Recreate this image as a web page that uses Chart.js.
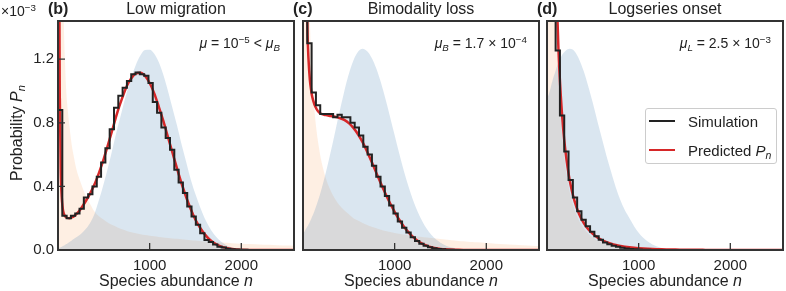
<!DOCTYPE html>
<html>
<head>
<meta charset="utf-8">
<script src="https://cdn.jsdelivr.net/npm/chart.js@4.4.0/dist/chart.umd.min.js"></script>
<style>
  body { margin: 0; background: #fff; }
  #wrap { position: relative; width: 786px; height: 291px; overflow: hidden;
          font-family: "Liberation Sans", Arial, sans-serif; color: #222; }
  canvas { position: absolute; top: 0; }
  .t { position: absolute; white-space: nowrap; line-height: 1; }
  .sub { font-size: 0.7em; vertical-align: -0.3em; }
  .sup { font-size: 0.7em; vertical-align: 0.55em; }
  .legrow { position: absolute; left: 0; width: 100%; height: 20px; }
  .sw { position: absolute; left: 3px; top: 9px; width: 26px; height: 2px; }
  .lt { position: absolute; left: 42px; top: 2px; font-size: 15px; }
</style>
</head>
<body>
<div id="wrap">
  <canvas id="panelB" width="300" height="291" style="left:0px"></canvas>
  <canvas id="panelC" width="252" height="291" style="left:293px"></canvas>
  <canvas id="panelD" width="249" height="291" style="left:537px"></canvas>

  <div class="t" style="left:1px;top:3px;font-size:14px">×10<span class="sup">−3</span></div>
  <div class="t" style="left:18px;top:133px;font-size:16px;transform:translate(-50%,-50%) rotate(-90deg)">Probability <i>P</i><span class="sub"><i>n</i></span></div>

  <div class="t" style="left:48px;top:1px;font-size:16px;font-weight:bold">(b)</div>
  <div class="t" style="left:176px;top:1px;font-size:16px;transform:translateX(-50%)">Low migration</div>
  <div class="t" style="left:293px;top:1px;font-size:16px;font-weight:bold">(c)</div>
  <div class="t" style="left:421px;top:1px;font-size:16px;transform:translateX(-50%)">Bimodality loss</div>
  <div class="t" style="left:537px;top:1px;font-size:16px;font-weight:bold">(d)</div>
  <div class="t" style="left:665px;top:1px;font-size:16px;transform:translateX(-50%)">Logseries onset</div>

  <div class="t" style="right:506px;top:35px;font-size:14px"><i>μ</i> = 10<span class="sup">−5</span> &lt; <i>μ</i><span class="sub"><i>B</i></span></div>
  <div class="t" style="right:259px;top:35px;font-size:14px"><i>μ</i><span class="sub"><i>B</i></span> = 1.7 × 10<span class="sup">−4</span></div>
  <div class="t" style="right:15px;top:35px;font-size:14px"><i>μ</i><span class="sub"><i>L</i></span> = 2.5 × 10<span class="sup">−3</span></div>

  <div class="t" style="left:176px;top:273px;font-size:16px;transform:translateX(-50%)">Species abundance <i>n</i></div>
  <div class="t" style="left:421px;top:273px;font-size:16px;transform:translateX(-50%)">Species abundance <i>n</i></div>
  <div class="t" style="left:665px;top:273px;font-size:16px;transform:translateX(-50%)">Species abundance <i>n</i></div>

  <div id="legend" style="position:absolute;left:645px;top:108px;width:130px;height:54px;border:1px solid #ccc;border-radius:3px;background:rgba(255,255,255,0.85)">
    <div class="legrow" style="top:2px"><span class="sw" style="background:#222"></span><span class="lt">Simulation</span></div>
    <div class="legrow" style="top:31px"><span class="sw" style="background:#d62728"></span><span class="lt">Predicted <i>P</i><span class="sub"><i>n</i></span></span></div>
  </div>
</div>

<script>
// histogram bins (width in n) and axis ticks
const BIN_WIDTH = 47;
const xTickVals = [1000, 2000];
const yTickVals = [0, 0.4, 0.8, 1.2];
const X_MAX = 2575;
const Y_MAX = 1.44;

// simulated histograms, x10^-3, one value per bin
const simB = [0.88, 0.215, 0.2, 0.215, 0.23, 0.26, 0.33, 0.35, 0.4, 0.46, 0.55, 0.64, 0.76, 0.895, 0.97, 1.02, 1.063, 1.105, 1.116, 1.105,
  1.095, 1.05, 0.93, 0.863, 0.77, 0.705, 0.63, 0.505, 0.425, 0.358, 0.274, 0.21, 0.158, 0.105, 0.063, 0.05, 0.035, 0.021, 0.015, 0.008,
  0.005, 0.003, 0.002, 0.001, 0];
const simC = [2.5, 1.3, 0.99, 0.91, 0.855, 0.855, 0.855, 0.834, 0.85, 0.834, 0.834, 0.8, 0.77, 0.72, 0.65, 0.6, 0.53, 0.46, 0.4, 0.34,
  0.28, 0.23, 0.18, 0.14, 0.11, 0.08, 0.056, 0.04, 0.027, 0.018, 0.011, 0.007, 0.004, 0.002, 0.001, 0];
const simD = [4.0, 1.8, 1.255, 0.845, 0.62, 0.44, 0.33, 0.244, 0.19, 0.15, 0.115, 0.086, 0.065, 0.047, 0.036, 0.027, 0.02, 0.014, 0.01, 0.007,
  0.005, 0.003, 0.002, 0.001, 0];

// abundance grid for the smooth curves
const nGrid = [1, 10, 20, 30, 40, 50, 60, 75, 90, 100, 125, 150, 175, 200,
  250, 300, 350, 400, 450, 500, 550, 600, 650, 700, 750, 800, 850, 900, 950, 1000, 1050, 1100, 1150, 1200,
  1250, 1300, 1350, 1400, 1450, 1500, 1550, 1600, 1650, 1700, 1750, 1800, 1850, 1900,
  2000, 2100, 2200, 2300, 2400, 2500, 2575];

const predB = [30, 2.2, 0.95, 0.5, 0.34, 0.27, 0.235, 0.215, 0.205, 0.202, 0.2, 0.205, 0.213, 0.225,
  0.26, 0.305, 0.355, 0.415, 0.49, 0.575, 0.67, 0.77, 0.87, 0.955, 1.03, 1.08, 1.11, 1.115, 1.095, 1.05, 0.985, 0.9, 0.81, 0.71,
  0.61, 0.51, 0.415, 0.33, 0.255, 0.19, 0.14, 0.1, 0.068, 0.045, 0.029, 0.018, 0.011, 0.0065,
  0.002, 0.0005, 0.0001, 0, 0, 0, 0];
const orangeB = [50, 8, 4.5, 3.0, 2.3, 1.8, 1.5, 1.2, 1.0, 0.92, 0.78, 0.66, 0.58, 0.51,
  0.42, 0.345, 0.29, 0.24, 0.21, 0.19, 0.17, 0.155, 0.142, 0.13, 0.12, 0.112, 0.105, 0.099, 0.094, 0.09, 0.086, 0.082, 0.079, 0.076,
  0.073, 0.07, 0.067, 0.065, 0.062, 0.06, 0.057, 0.055, 0.053, 0.051, 0.049, 0.047, 0.045, 0.043,
  0.04, 0.038, 0.035, 0.033, 0.03, 0.028, 0.027];
const blueB = [0.01, 0.012, 0.015, 0.018, 0.021, 0.024, 0.027, 0.032, 0.037, 0.04, 0.05, 0.06, 0.07, 0.08,
  0.1, 0.13, 0.17, 0.23, 0.32, 0.42, 0.53, 0.65, 0.77, 0.88, 0.99, 1.085, 1.165, 1.225, 1.258, 1.26, 1.234, 1.18, 1.1, 1.0,
  0.89, 0.78, 0.66, 0.55, 0.44, 0.35, 0.27, 0.2, 0.145, 0.1, 0.068, 0.044, 0.027, 0.016,
  0.005, 0.001, 0, 0, 0, 0, 0];

const predC = [40, 6, 3.2, 2.2, 1.65, 1.35, 1.2, 1.07, 1.0, 0.965, 0.915, 0.885, 0.866, 0.856,
  0.848, 0.843, 0.838, 0.83, 0.818, 0.798, 0.768, 0.728, 0.678, 0.618, 0.553, 0.485, 0.418, 0.354, 0.294, 0.24, 0.19, 0.148, 0.112, 0.082,
  0.058, 0.04, 0.027, 0.017, 0.011, 0.007, 0.004, 0.0025, 0.0015, 0.0008, 0.0004, 0.0002, 0.0001, 0,
  0, 0, 0, 0, 0, 0, 0];
const orangeC = [60, 10, 5.2, 3.6, 2.7, 2.2, 1.8, 1.45, 1.2, 1.08, 0.88, 0.74, 0.64, 0.56,
  0.45, 0.375, 0.32, 0.28, 0.25, 0.225, 0.2, 0.185, 0.17, 0.157, 0.146, 0.137, 0.128, 0.12, 0.113, 0.107, 0.102, 0.097, 0.093, 0.089,
  0.085, 0.081, 0.078, 0.075, 0.072, 0.069, 0.066, 0.063, 0.06, 0.057, 0.055, 0.052, 0.05, 0.048,
  0.044, 0.04, 0.036, 0.033, 0.03, 0.027, 0.025];
const blueC = [0.1, 0.11, 0.12, 0.13, 0.14, 0.149, 0.16, 0.178, 0.197, 0.21, 0.246, 0.286, 0.33, 0.379,
  0.489, 0.611, 0.741, 0.872, 0.997, 1.107, 1.192, 1.246, 1.265, 1.25, 1.208, 1.141, 1.053, 0.95, 0.837, 0.721, 0.607, 0.499, 0.401, 0.315,
  0.242, 0.182, 0.133, 0.096, 0.067, 0.046, 0.03, 0.019, 0.012, 0.007, 0.004, 0.002, 0.001, 0,
  0, 0, 0, 0, 0, 0, 0];

const predD = [60, 22, 10.8, 7.0, 5.1, 3.96, 3.19, 2.44, 1.95, 1.7, 1.26, 0.974, 0.773, 0.628,
  0.43, 0.309, 0.227, 0.171, 0.13, 0.101, 0.079, 0.062, 0.049, 0.039, 0.031, 0.025, 0.0205, 0.0167, 0.0136, 0.0111, 0.0091, 0.0074, 0.0061, 0.005,
  0.0041, 0.0034, 0.0028, 0.0024, 0.002, 0.0016, 0.0013, 0.0011, 0.0009, 0.0008, 0.0006, 0.0005, 0.0004, 0.0003,
  0.0002, 0.0001, 0, 0, 0, 0, 0];
const orangeD = [100, 20, 9.7, 6.2, 4.5, 3.5, 2.8, 2.15, 1.71, 1.48, 1.09, 0.84, 0.66, 0.53,
  0.36, 0.254, 0.184, 0.136, 0.103, 0.078, 0.06, 0.047, 0.036, 0.029, 0.023, 0.018, 0.014, 0.0115, 0.009, 0.0074, 0.006, 0.0047, 0.0038, 0.003,
  0.0025, 0.002, 0.0016, 0.0013, 0.001, 0.0008, 0.0007, 0.0005, 0.0004, 0.0003, 0.0003, 0.0002, 0.0002, 0.0001,
  0, 0, 0, 0, 0, 0, 0];
const blueD = [0.95, 0.965, 0.98, 1.0, 1.02, 1.045, 1.065, 1.095, 1.12, 1.14, 1.18, 1.21, 1.235, 1.252,
  1.265, 1.25, 1.2, 1.125, 1.03, 0.925, 0.81, 0.7, 0.59, 0.49, 0.395, 0.315, 0.25, 0.2, 0.15, 0.108, 0.077, 0.053, 0.035, 0.022,
  0.013, 0.007, 0.004, 0.002, 0.001, 0, 0, 0, 0, 0, 0, 0, 0, 0,
  0, 0, 0, 0, 0, 0, 0];

Chart.defaults.font.family = '"Liberation Sans", Arial, sans-serif';
Chart.defaults.color = '#222';

const ORANGE_FILL = 'rgba(250,160,90,0.17)';
const BLUE_FILL = 'rgba(70,130,180,0.2)';
const RED = '#d62728';
const BLACK = '#222';

// frame box plus inward tick marks
const framePlugin = {
  id: 'frame',
  afterDatasetsDraw(chart, args, opts) {
    const { ctx, chartArea: a, scales } = chart;
    ctx.save();
    ctx.strokeStyle = '#333';
    ctx.lineWidth = 1.3;
    ctx.beginPath();
    xTickVals.forEach(v => {
      const x = scales.x.getPixelForValue(v);
      ctx.moveTo(x, a.bottom);
      ctx.lineTo(x, a.bottom - 7);
    });
    if (opts.yTicks) {
      yTickVals.forEach(v => {
        const y = scales.y.getPixelForValue(v);
        ctx.moveTo(a.left, y);
        ctx.lineTo(a.left + 7, y);
      });
    }
    ctx.stroke();
    ctx.lineWidth = 2;
    ctx.strokeRect(a.left, a.top, a.right - a.left, a.bottom - a.top);
    ctx.restore();
  }
};

function toXY(xs, ys) {
  return xs.map((x, i) => ({ x: x, y: ys[i] }));
}

function makePanel(id, sim, pred, orange, blue, showY, yWidth, padRight) {
  new Chart(document.getElementById(id), {
    type: 'line',
    data: {
      datasets: [
        { label: 'orange', data: toXY(nGrid, orange), fill: 'origin', backgroundColor: ORANGE_FILL,
          borderWidth: 0, pointRadius: 0, cubicInterpolationMode: 'monotone', order: 4 },
        { label: 'blue', data: toXY(nGrid, blue), fill: 'origin', backgroundColor: BLUE_FILL,
          borderWidth: 0, pointRadius: 0, cubicInterpolationMode: 'monotone', order: 3 },
        { label: 'Predicted', data: toXY(nGrid, pred), fill: false, borderColor: RED,
          borderWidth: 2.5, pointRadius: 0, cubicInterpolationMode: 'monotone', order: 2 },
        { label: 'Simulation', data: sim.map((v, i) => ({ x: i * BIN_WIDTH, y: v })), fill: false,
          borderColor: BLACK, borderWidth: 2, pointRadius: 0, stepped: 'before', order: 1 }
      ]
    },
    options: {
      responsive: false,
      animation: false,
      devicePixelRatio: 1,
      layout: { padding: { left: 0, right: padRight, top: 21, bottom: 0 } },
      plugins: { legend: { display: false }, tooltip: { enabled: false }, frame: { yTicks: showY } },
      scales: {
        x: {
          type: 'linear', min: 0, max: X_MAX,
          grid: { display: false, drawTicks: false },
          border: { display: false },
          afterBuildTicks: s => { s.ticks = xTickVals.map(v => ({ value: v })); },
          afterFit: s => { s.height = 41; },
          ticks: { padding: 7, font: { size: 15 }, color: '#222', callback: v => String(v) }
        },
        y: {
          min: 0, max: Y_MAX,
          grid: { display: false, drawTicks: false },
          border: { display: false },
          afterBuildTicks: s => { s.ticks = yTickVals.map(v => ({ value: v })); },
          afterFit: s => { s.width = yWidth; },
          ticks: { display: showY, padding: 4, font: { size: 15 }, color: '#222', callback: v => v.toFixed(1) }
        }
      }
    },
    plugins: [framePlugin]
  });
}

makePanel('panelB', simB, predB, orangeB, blueB, true, 58, 6);
makePanel('panelC', simC, predC, orangeC, blueC, false, 10, 6);
makePanel('panelD', simD, predD, orangeD, blueD, false, 10, 3);
</script>
</body>
</html>
